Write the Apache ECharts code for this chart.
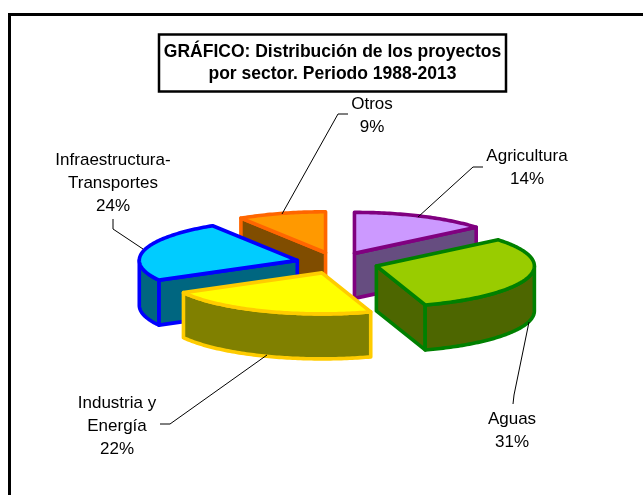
<!DOCTYPE html>
<html>
<head>
<meta charset="utf-8">
<script src="https://cdn.jsdelivr.net/npm/echarts@6/dist/echarts.min.js"></script>
<style>html,body{margin:0;padding:0;background:#fff}#c{width:643px;height:495px}</style>
</head>
<body>
<div id="c"></div>
<script>
// ---- data ----
const categories = ['Agricultura', 'Aguas', 'Industria y\nEnergía', 'Infraestructura-\nTransportes', 'Otros'];
const shares = [14, 31, 22, 24, 9];
const titleText = 'GRÁFICO: Distribución de los proyectos\npor sector. Periodo 1988-2013';

// ---- styles ----
const topColors = ['#CC99FF', '#99CC00', '#FFFF00', '#00CCFF', '#FF9900'];
const sideColors = ['#664D80', '#4D6600', '#808000', '#006680', '#804D00'];
const edgeColors = ['#800080', '#008000', '#FFCC00', '#0000FF', '#FF6600'];
const paintRank = [0, 3, 4, 2, 1];

// ---- 3D pie projection ----
const centerX = 337, centerY = 263, radiusX = 158, radiusY = 41, depth = 45, explode = 41, edgeWidth = 3.6;

// ---- label layout ----
const labelPos = [[527, 167.5], [512, 430.5], [117, 426], [113, 183], [372, 115.5]];
const leaderPaths = [
  [[483, 167], [473, 167], [418, 217]],
  [[529, 322], [514, 395], [513, 404]],
  [[267, 355], [170, 424], [160, 424]],
  [[143, 249], [113, 229], [113, 219]],
  [[348, 114], [338, 114], [282, 214]]
];

const total = shares.reduce((a, b) => a + b, 0);
const starts = [];
shares.reduce((acc, v, i) => { starts[i] = acc; return acc + v; }, 0);
const toRad = v => v / total * 2 * Math.PI;

function pt(ox, oy, th, dy) {
  return [ox + radiusX * Math.sin(th), oy - radiusY * Math.cos(th) + (dy || 0)];
}
function arcPts(ox, oy, a, b, dy) {
  const n = Math.max(2, Math.ceil(Math.abs(b - a) / (Math.PI / 180)));
  const r = [];
  for (let k = 0; k <= n; k++) r.push(pt(ox, oy, a + (b - a) * k / n, dy));
  return r;
}

function renderSlice(params, api) {
  const i = params.dataIndex;
  const a = toRad(starts[i]);
  const b = a + toRad(api.value(0));
  const mid = (a + b) / 2;
  const ox = centerX + explode * Math.sin(mid);
  const oy = centerY - explode * radiusY / radiusX * Math.cos(mid);
  const base = paintRank[i] * 10;
  const strokeStyle = {
    stroke: edgeColors[i], lineWidth: edgeWidth, lineJoin: 'round', fill: sideColors[i]
  };
  const children = [];
  const wall = th => {
    const p = pt(ox, oy, th);
    children.push({
      type: 'polygon', z2: base + 1,
      shape: { points: [[ox, oy], p, [p[0], p[1] + depth], [ox, oy + depth]] },
      style: strokeStyle
    });
  };
  if (Math.sin(a) < -1e-6) wall(a);
  if (Math.sin(b) > 1e-6) wall(b);
  // outer curved wall: only the front half of the rim shows
  const ca = Math.max(a, Math.PI / 2), cb = Math.min(b, 3 * Math.PI / 2);
  if (cb > ca) {
    const upper = arcPts(ox, oy, ca, cb, 0);
    const lower = arcPts(ox, oy, cb, ca, depth);
    children.push({
      type: 'polygon', z2: base + 2,
      shape: { points: upper.concat(lower) },
      style: strokeStyle
    });
  }
  // top face
  children.push({
    type: 'polygon', z2: base + 3,
    shape: { points: [[ox, oy]].concat(arcPts(ox, oy, a, b, 0)) },
    style: { fill: topColors[i], stroke: edgeColors[i], lineWidth: edgeWidth, lineJoin: 'round' }
  });
  // leader line and label
  children.push({
    type: 'polyline', z2: 90,
    shape: { points: leaderPaths[i] },
    style: { stroke: '#000', lineWidth: 1, fill: null }
  });
  children.push({
    type: 'text', z2: 91,
    x: labelPos[i][0], y: labelPos[i][1],
    style: {
      text: categories[i] + '\n' + api.value(0) + '%',
      fill: '#000', align: 'center', verticalAlign: 'middle',
      font: '17px "Liberation Sans", Arial, sans-serif', lineHeight: 23
    }
  });
  return { type: 'group', children };
}

const chart = echarts.init(document.getElementById('c'), null, { renderer: 'canvas' });
chart.setOption({
  animation: false,
  backgroundColor: '#fff',
  title: {
    text: titleText,
    left: 327.5, top: 34,
    textAlign: 'center',
    padding: [7, 5, 7, 5],
    backgroundColor: '#fff',
    borderColor: '#000',
    borderWidth: 2.5,
    textStyle: {
      fontFamily: '"Liberation Sans", Arial, sans-serif',
      fontSize: 17.5, fontWeight: 'bold', color: '#000', lineHeight: 22
    }
  },
  graphic: [
    { type: 'line', silent: true, shape: { x1: 8, y1: 14.5, x2: 643, y2: 14.5 }, style: { stroke: '#000', lineWidth: 3 } },
    { type: 'line', silent: true, shape: { x1: 9.5, y1: 13, x2: 9.5, y2: 495 }, style: { stroke: '#000', lineWidth: 3 } }
  ],
  series: [{
    type: 'custom',
    coordinateSystem: 'none',
    silent: true,
    renderItem: renderSlice,
    data: shares.map((v, i) => ({ name: categories[i], value: [v] }))
  }]
});
</script>
</body>
</html>
